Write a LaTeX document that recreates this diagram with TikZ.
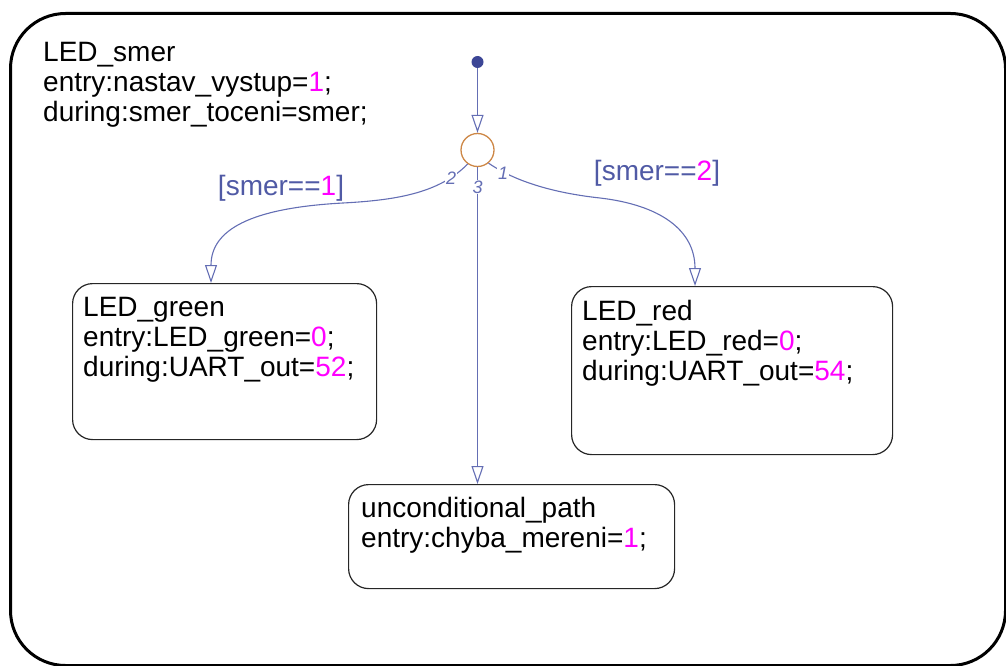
\documentclass[tikz,border=0pt]{standalone}
\usepackage{fontspec}
\setmainfont{Liberation Sans}
\usetikzlibrary{arrows.meta,calc}
\definecolor{trans}{RGB}{100,110,180}
\definecolor{lbl}{RGB}{80,90,165}
\definecolor{mag}{RGB}{255,0,255}
\definecolor{junc}{RGB}{205,135,70}
\definecolor{dotc}{RGB}{60,70,150}
\newcommand{\mg}[1]{\textcolor{mag}{#1}}
\begin{document}
\begin{tikzpicture}[x=1pt,y=-1pt,
  outerbox/.style={draw=black, line width=3pt, rounded corners=55pt, inner sep=0, anchor=north west},
  statebox/.style={draw=black!85, line width=1.2pt, rounded corners=20pt, inner sep=0, anchor=north west},
  txt/.style={anchor=north west, inner sep=0, align=left, font=\fontsize{28}{30}\selectfont},
  tr/.style={draw=trans, line width=1.1pt, -{Triangle[open,length=18pt,width=12pt]}},
  numl/.style={font=\itshape\fontsize{18}{18}\selectfont, text=trans, fill=white, inner sep=1pt},
  guard/.style={font=\fontsize{28}{30}\selectfont, text=lbl, inner sep=0}]
\useasboundingbox (0,0) rectangle (1006,666);
\node[outerbox, minimum width=995pt, minimum height=652pt] (smer) at (9,12) {};
\node[txt] (smertxt) at (43,42) {LED\_smer\\entry:nastav\_vystup=\mg{1};\\during:smer\_toceni=smer;};

\node[statebox, minimum width=304pt, minimum height=156pt] (green) at (72,283) {};
\node[txt] (greentxt) at (83,297) {LED\_green\\entry:LED\_green=\mg{0};\\during:UART\_out=\mg{52};};

\node[statebox, minimum width=321pt, minimum height=168pt] (red) at (571,286) {};
\node[txt] (redtxt) at (582,300) {LED\_red\\entry:LED\_red=\mg{0};\\during:UART\_out=\mg{54};};

\node[statebox, minimum width=326pt, minimum height=104pt] (uncond) at (348,484) {};
\node[txt] (uncondtxt) at (361,497) {unconditional\_path\\entry:chyba\_mereni=\mg{1};};

\node[circle, draw=junc, line width=1.3pt, minimum size=33pt, inner sep=0] (j) at (477.5,150) {};
\node[circle, fill=dotc, minimum size=12pt, inner sep=0] (d) at (477.5,62) {};

\coordinate (gin) at ($(green.north west)+(139,0)$);
\coordinate (rin) at ($(red.north west)+(124,0)$);

\draw[tr] (d) -- (j.north);
\draw[tr] (j.-125) .. controls (440,192) and (400,200) .. (343,203)
  .. controls (250,208) and (211,230) .. (gin);
\draw[tr] (j.-50) .. controls (510,178) and (545,192) .. (600,198)
  .. controls (660,205) and (695,230) .. (rin);
\draw[tr] (j.south) -- (j.south |- uncond.north);

\node[numl] (n2) at (451,178) {2};
\node[numl] (n3) at (477.5,187) {3};
\node[numl] (n1) at (503,173) {1};

\node[guard] (g1) at (281,188) {[smer==\mg{1}]};
\node[guard] (g2) at (657,173) {[smer==\mg{2}]};
\end{tikzpicture}
\end{document}
